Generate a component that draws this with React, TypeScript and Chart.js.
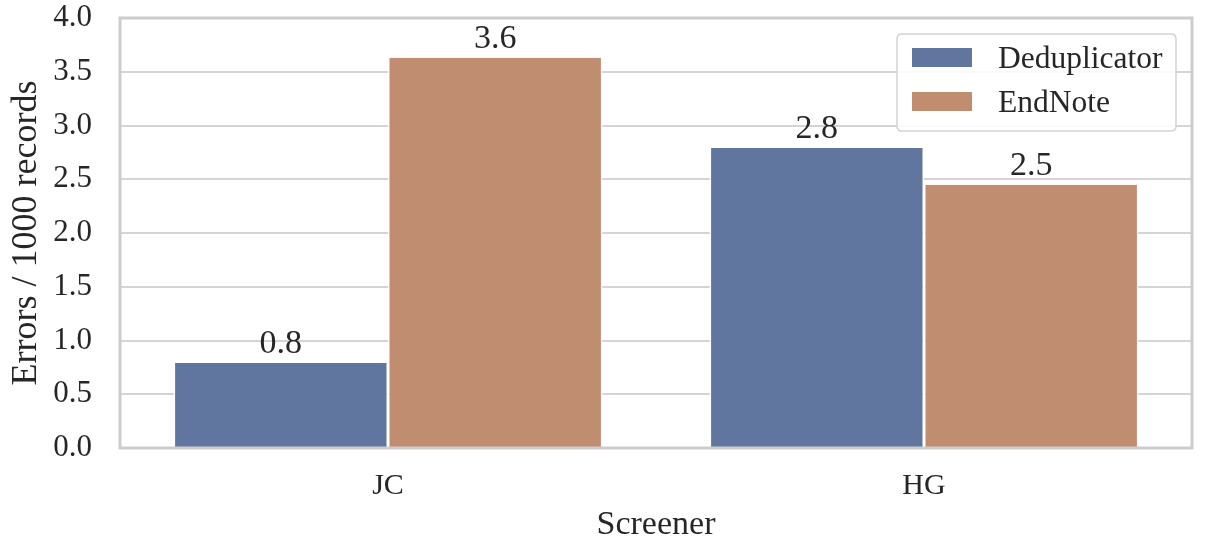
import React, { useEffect, useRef } from "react";
import { Chart, registerables } from "chart.js";

Chart.register(...registerables);

const categories = ["JC", "HG"];
const seriesLabels = ["Deduplicator", "EndNote"];
const deduplicatorValues = [0.79, 2.79];
const endNoteValues = [3.63, 2.45];
const seriesColors = ["#61769f", "#c18d71"];
const yMin = 0;
const yMax = 4;
const yStep = 0.5;
const xTitle = "Screener";
const yTitle = "Errors / 1000 records";

const FONT = "'Liberation Serif', 'Times New Roman', serif";
const TEXT = "#262626";

const framePlugin = {
  id: "frame",
  afterDatasetsDraw(chart: any) {
    const { ctx, chartArea } = chart;
    ctx.save();
    ctx.strokeStyle = "#cccccc";
    ctx.lineWidth = 3;
    ctx.strokeRect(chartArea.left, chartArea.top, chartArea.right - chartArea.left, chartArea.bottom - chartArea.top);
    ctx.restore();
  },
};

const valueLabelPlugin = {
  id: "valueLabels",
  afterDatasetsDraw(chart: any) {
    const { ctx } = chart;
    ctx.save();
    ctx.font = `34px ${FONT}`;
    ctx.fillStyle = TEXT;
    ctx.textAlign = "center";
    ctx.textBaseline = "alphabetic";
    chart.data.datasets.forEach((ds: any, di: number) => {
      const meta = chart.getDatasetMeta(di);
      meta.data.forEach((el: any, i: number) => {
        const v = ds.data[i] as number;
        ctx.fillText(v.toFixed(1), el.x, el.y - 10);
      });
    });
    ctx.restore();
  },
};

const boxLegendPlugin = {
  id: "boxLegend",
  afterDraw(chart: any) {
    const { ctx, chartArea } = chart;
    const w = 279;
    const h = 97;
    const x = chartArea.right - 16 - w;
    const y = chartArea.top + 16;
    ctx.save();
    ctx.beginPath();
    const r = 5;
    ctx.moveTo(x + r, y);
    ctx.lineTo(x + w - r, y);
    ctx.quadraticCurveTo(x + w, y, x + w, y + r);
    ctx.lineTo(x + w, y + h - r);
    ctx.quadraticCurveTo(x + w, y + h, x + w - r, y + h);
    ctx.lineTo(x + r, y + h);
    ctx.quadraticCurveTo(x, y + h, x, y + h - r);
    ctx.lineTo(x, y + r);
    ctx.quadraticCurveTo(x, y, x + r, y);
    ctx.closePath();
    ctx.fillStyle = "rgba(255,255,255,0.85)";
    ctx.fill();
    ctx.strokeStyle = "#d3d3d3";
    ctx.lineWidth = 1.5;
    ctx.stroke();
    ctx.font = `31.5px ${FONT}`;
    ctx.textAlign = "left";
    ctx.textBaseline = "alphabetic";
    chart.data.datasets.forEach((ds: any, i: number) => {
      const rowTop = y + 14 + i * 44;
      ctx.fillStyle = ds.backgroundColor;
      ctx.fillRect(x + 15, rowTop, 60, 19);
      ctx.fillStyle = TEXT;
      ctx.fillText(ds.label, x + 101, rowTop + 20);
    });
    ctx.restore();
  },
};

export default function App() {
  const ref = useRef<HTMLCanvasElement | null>(null);
  useEffect(() => {
    if (!ref.current) return;
    const chart = new Chart(ref.current, {
      type: "bar",
      data: {
        labels: categories,
        datasets: [
          {
            label: seriesLabels[0],
            data: deduplicatorValues,
            backgroundColor: seriesColors[0],
            borderColor: "#ffffff",
            borderWidth: { left: 1.5, right: 1.5, top: 0, bottom: 0 },
            borderSkipped: false,
            categoryPercentage: 0.8,
            barPercentage: 1.0,
          },
          {
            label: seriesLabels[1],
            data: endNoteValues,
            backgroundColor: seriesColors[1],
            borderColor: "#ffffff",
            borderWidth: { left: 1.5, right: 1.5, top: 0, bottom: 0 },
            borderSkipped: false,
            categoryPercentage: 0.8,
            barPercentage: 1.0,
          },
        ],
      },
      options: {
        animation: false,
        responsive: false,
        maintainAspectRatio: false,
        layout: { padding: { top: 18, right: 13, left: 0, bottom: 0 } },
        plugins: {
          legend: { display: false },
          tooltip: { enabled: false },
        },
        scales: {
          x: {
            grid: { display: false, drawTicks: false },
            border: { display: false },
            ticks: { color: TEXT, font: { family: FONT, size: 30 }, padding: 20 },
            title: {
              display: true,
              text: xTitle,
              color: TEXT,
              font: { family: FONT, size: 34 },
              padding: { top: 0, bottom: 5 },
            },
            afterFit(scale: any) {
              scale.height = 102;
              scale.paddingLeft = 0;
              scale.paddingRight = 0;
            },
          },
          y: {
            min: yMin,
            max: yMax,
            grid: { color: "#d4d4d4", lineWidth: 2, drawTicks: false },
            border: { display: false },
            ticks: {
              stepSize: yStep,
              color: TEXT,
              font: { family: FONT, size: 31 },
              padding: 28,
              callback: (v: any) => Number(v).toFixed(1),
            },
            title: {
              display: true,
              text: yTitle,
              color: TEXT,
              font: { family: FONT, size: 36 },
              padding: { top: 5, bottom: 0 },
            },
            afterFit(scale: any) {
              scale.width = 120;
              scale.paddingTop = 0;
              scale.paddingBottom = 0;
            },
          },
        },
      },
      plugins: [framePlugin, valueLabelPlugin, boxLegendPlugin],
    });
    return () => chart.destroy();
  }, []);
  return (
    <div style={{ position: "absolute", left: 0, top: 0, width: 1205, height: 550, background: "#fff" }}>
      <canvas ref={ref} width={1205} height={550} style={{ display: "block" }} />
    </div>
  );
}
